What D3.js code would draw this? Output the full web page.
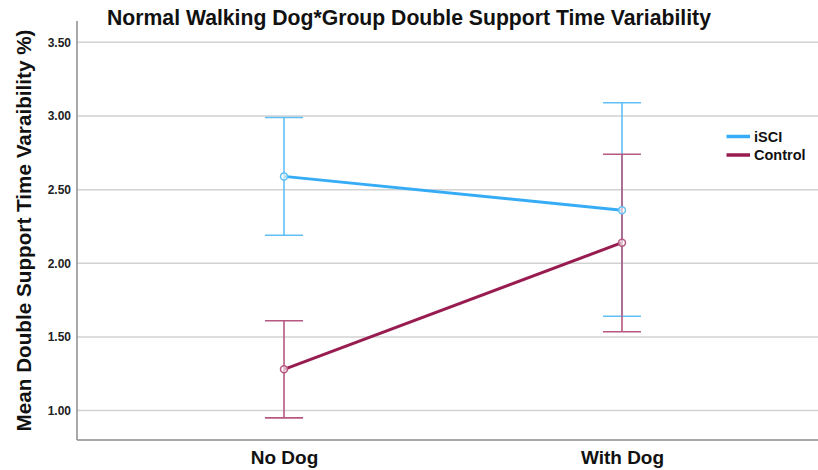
<!DOCTYPE html>
<html>
<head>
<meta charset="utf-8">
<script src="https://cdn.jsdelivr.net/npm/d3@7"></script>
<style>
  html, body { margin: 0; padding: 0; background: #fff; }
  svg { display: block; font-family: "Liberation Sans", Arial, sans-serif; }
</style>
</head>
<body>
<svg id="chart" width="818" height="470"></svg>
<script>
// Dog condition categories on the x axis
const conditions = ["No Dog", "With Dog"];
// Group names (legend order)
const groups = ["iSCI", "Control"];
// Means and 95% CI bounds per group, one value per condition
const iSCIMean = [2.59, 2.36];
const iSCILow = [2.19, 1.64];
const iSCIHigh = [2.99, 3.09];
const controlMean = [1.28, 2.14];
const controlLow = [0.95, 1.535];
const controlHigh = [1.61, 2.74];
// Y tick values
const yTicks = [1.0, 1.5, 2.0, 2.5, 3.0, 3.5];

const seriesColors = { "iSCI": "#36acf6", "Control": "#991c50" };
const barColors = { "iSCI": "#62bff5", "Control": "#b6587f" };

const series = [
  { name: "iSCI", mean: iSCIMean, low: iSCILow, high: iSCIHigh },
  { name: "Control", mean: controlMean, low: controlLow, high: controlHigh }
];

const svg = d3.select("#chart");
const plotLeft = 77, plotTop = 21, plotBottom = 440, plotRight = 818;

const x = d3.scalePoint().domain(conditions).range([77, 829]).padding(0.6125);
const y = d3.scaleLinear().domain([0.8, 3.645]).range([plotBottom, plotTop]);

// Horizontal gridlines
svg.append("g")
  .selectAll("line")
  .data(yTicks)
  .join("line")
  .attr("x1", plotLeft).attr("x2", plotRight)
  .attr("y1", d => y(d)).attr("y2", d => y(d))
  .attr("stroke", "#d2d2d2").attr("stroke-width", 1.5);

// Y axis
const yAxis = svg.append("g")
  .attr("transform", `translate(${plotLeft},0)`)
  .call(d3.axisLeft(y).tickValues(yTicks).tickFormat(d3.format(".2f")).tickSize(0).tickPadding(6));
yAxis.select(".domain").remove();
yAxis.selectAll("text")
  .attr("font-size", 12).attr("font-weight", "bold").attr("fill", "#222")
  .attr("font-family", "Liberation Sans, Arial, sans-serif");
svg.append("line")
  .attr("x1", plotLeft).attr("x2", plotLeft).attr("y1", plotTop).attr("y2", plotBottom)
  .attr("stroke", "#8c8c8c").attr("stroke-width", 1.5);

// X axis
const xAxis = svg.append("g")
  .attr("transform", `translate(0,${plotBottom})`)
  .call(d3.axisBottom(x).tickSize(0).tickPadding(11));
xAxis.select(".domain").remove();
xAxis.selectAll("text")
  .attr("font-size", 19).attr("font-weight", "bold").attr("fill", "#111")
  .attr("font-family", "Liberation Sans, Arial, sans-serif");
svg.append("line")
  .attr("x1", plotLeft).attr("x2", plotRight).attr("y1", plotBottom).attr("y2", plotBottom)
  .attr("stroke", "#8c8c8c").attr("stroke-width", 1.5);

// Mean lines
const line = d3.line().x((d, i) => x(conditions[i])).y(d => y(d));
svg.append("g")
  .selectAll("path")
  .data(series)
  .join("path")
  .attr("d", s => line(s.mean))
  .attr("fill", "none")
  .attr("stroke", s => seriesColors[s.name])
  .attr("stroke-width", 3);

// Error bars (95% CI) with caps
const capHalf = 19;
const bars = svg.append("g");
series.forEach(s => {
  conditions.forEach((c, i) => {
    const g = bars.append("g").attr("stroke", barColors[s.name]).attr("stroke-width", 1.6);
    g.append("line").attr("x1", x(c)).attr("x2", x(c))
      .attr("y1", y(s.low[i])).attr("y2", y(s.high[i]));
    g.append("line").attr("x1", x(c) - capHalf).attr("x2", x(c) + capHalf)
      .attr("y1", y(s.high[i])).attr("y2", y(s.high[i]));
    g.append("line").attr("x1", x(c) - capHalf).attr("x2", x(c) + capHalf)
      .attr("y1", y(s.low[i])).attr("y2", y(s.low[i]));
  });
});

// Open circle markers at means
series.forEach(s => {
  svg.append("g")
    .selectAll("circle")
    .data(s.mean)
    .join("circle")
    .attr("cx", (d, i) => x(conditions[i]))
    .attr("cy", d => y(d))
    .attr("r", 3.5)
    .attr("fill", "#fff")
    .attr("fill-opacity", 0.6)
    .attr("stroke", barColors[s.name])
    .attr("stroke-width", 1.5);
});

// Legend
const legend = svg.append("g");
groups.forEach((gname, i) => {
  const ly = 136.5 + i * 18.5;
  legend.append("line")
    .attr("x1", 726.5).attr("x2", 750).attr("y1", ly).attr("y2", ly)
    .attr("stroke", seriesColors[gname]).attr("stroke-width", 3.5);
  legend.append("text")
    .attr("x", 754).attr("y", ly + 5)
    .attr("font-size", 14.5).attr("font-weight", "bold").attr("fill", "#111")
    .text(gname);
});

// Title
svg.append("text")
  .attr("x", 409).attr("y", 25)
  .attr("text-anchor", "middle")
  .attr("font-size", 21.2).attr("font-weight", "bold").attr("fill", "#111")
  .text("Normal Walking Dog*Group Double Support Time Variability");

// Y axis title
svg.append("text")
  .attr("transform", `translate(30.5,${(plotTop + plotBottom) / 2}) rotate(-90)`)
  .attr("text-anchor", "middle")
  .attr("font-size", 20.7).attr("font-weight", "bold").attr("fill", "#111")
  .text("Mean Double Support Time Varaibility %)");
</script>
</body>
</html>
